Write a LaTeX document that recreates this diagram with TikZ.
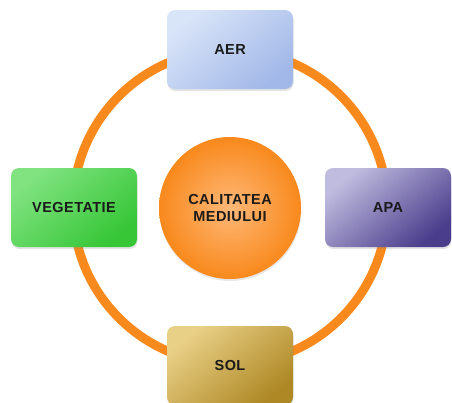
\documentclass[tikz,border=0pt]{standalone}
\usepackage{fontspec}
\setmainfont{Liberation Sans}[LetterSpace=3]
\usetikzlibrary{shadows}
\definecolor{ringorange}{HTML}{F8891C}
\definecolor{hubinner}{HTML}{FFB878}
\definecolor{txt}{HTML}{1A1A1A}
\definecolor{aerA}{HTML}{D8E4F8}
\definecolor{aerB}{HTML}{A2B8E8}
\definecolor{vegA}{HTML}{80E380}
\definecolor{vegB}{HTML}{36C636}
\definecolor{apaA}{HTML}{C0BCDF}
\definecolor{apaB}{HTML}{4A3D8C}
\definecolor{solA}{HTML}{E9D087}
\definecolor{solB}{HTML}{AE8824}
\begin{document}
\begin{tikzpicture}[x=1pt,y=-1pt,
  box/.style={rounded corners=8pt, minimum width=126pt, minimum height=79pt,
    inner sep=0pt, font=\fontsize{14.5}{17}\selectfont\bfseries, text=txt,
    drop shadow={opacity=0.22, shadow xshift=0.5pt, shadow yshift=-2pt}},
  hub/.style={circle, minimum size=142pt, inner sep=0pt, align=center,
    font=\fontsize{14.5}{16.5}\selectfont\bfseries, text=txt,
    shading=radial, inner color=hubinner, outer color=ringorange,
    drop shadow={opacity=0.18, shadow xshift=0.5pt, shadow yshift=-2pt}}]
  \useasboundingbox (0,0) rectangle (452,402);
  % orange ring joining the four boxes
  \draw[ringorange, line width=9pt] (230,207) circle [radius=157];
  % central topic
  \node[hub] (core) at (230,208) {CALITATEA\\MEDIULUI};
  % the four components
  \node[box, top color=aerA, bottom color=aerB, shading angle=40] (aer) at (230,49.5) {AER};
  \node[box, top color=vegA, bottom color=vegB, shading angle=40] (veg) at (74,207.5) {VEGETATIE};
  \node[box, top color=apaA, bottom color=apaB, shading angle=40] (apa) at (388,207.5) {APA};
  \node[box, top color=solA, bottom color=solB, shading angle=40] (sol) at (230,365.5) {SOL};
\end{tikzpicture}
\end{document}
